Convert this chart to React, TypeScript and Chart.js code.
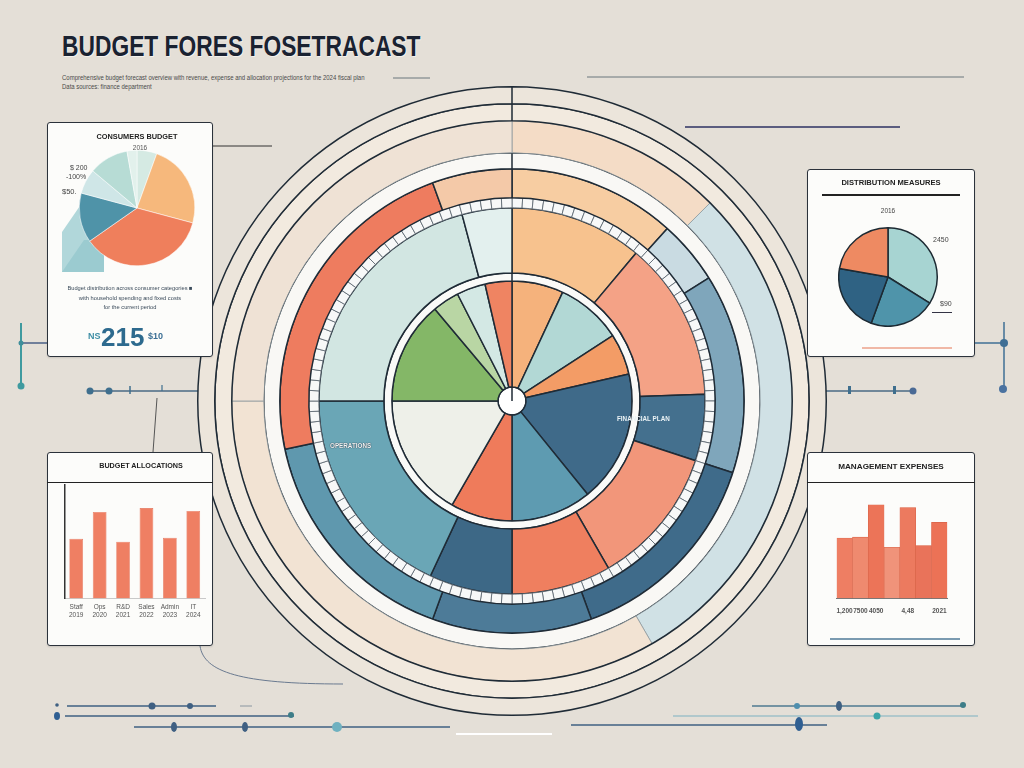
import React, { useEffect, useRef } from "react";
import { Chart, registerables } from "chart.js";
Chart.register(...registerables);

// ---------------- data ----------------
const BG = "#e4dfd7";

// central multi-ring chart (degree shares, clockwise from 12 o'clock)
const innerLabels = ["Housing", "Transport", "Food", "Savings", "Health", "Debt", "Reserve", "Growth", "Education", "Leisure", "Misc"];
const innerValues = [25, 32, 20, 64, 39, 30, 60, 50, 13, 14, 13];
const innerColors = ["#f5b27c", "#b2d8d5", "#f39c66", "#3f6a89", "#5e9bb1", "#ef7b5b", "#eef0e9", "#84b767", "#b9d6a4", "#d3e8e4", "#ef8462"];

const middleValues = [40, 48, 20, 42, 30, 25, 65, 75, 15];
const middleColors = ["#f7c28e", "#f4a286", "#44708e", "#f2967a", "#ef7f5f", "#3d6886", "#6aa6b6", "#d2e6e2", "#e3f0ee"];

const outerValues = [42, 16, 50, 52, 40, 58, 82, 20];
const outerColors = ["#f7cda2", "#c9dbe2", "#7fa6bb", "#3f6b8a", "#4d7b98", "#5f98ae", "#ee7c5f", "#f4c9a8"];

const paleValues = [45, 105, 120, 90];
const paleColors = ["#f4dcc6", "#d0e1e5", "#f2e3d3", "#efe2d5"];

const fullRing = [1];

const ladderValues = [
  1, 1, 1, 1, 1, 1, 1, 1, 1, 1, 1, 1, 1, 1, 1, 1, 1, 1, 1, 1,
  1, 1, 1, 1, 1, 1, 1, 1, 1, 1, 1, 1, 1, 1, 1, 1, 1, 1, 1, 1,
  1, 1, 1, 1, 1, 1, 1, 1, 1, 1, 1, 1, 1, 1, 1, 1, 1, 1, 1, 1,
  1, 1, 1, 1, 1, 1, 1, 1, 1, 1, 1, 1, 1, 1, 1, 1, 1, 1, 1, 1,
  1, 1, 1, 1, 1, 1, 1, 1, 1, 1, 1, 1, 1, 1, 1, 1, 1, 1, 1, 1,
  1, 1, 1, 1, 1, 1, 1, 1, 1, 1, 1, 1, 1, 1, 1, 1, 1, 1, 1, 1,
];

// top-left card pie
const consumerValues = [20, 85, 130, 50, 25, 40, 10];
const consumerColors = ["#d5eae3", "#f6b87c", "#ef7f5c", "#4f93a8", "#cfe6e7", "#b7dcd5", "#e2f1ec"];

// top-right card pie
const distributionValues = [122, 78, 80, 80];
const distributionColors = ["#a7d4d2", "#4f94aa", "#2f6283", "#ee8a62"];

// bottom-left bars
const allocationLabels = [["Staff", "2019"], ["Ops", "2020"], ["R&D", "2021"], ["Sales", "2022"], ["Admin", "2023"], ["IT", "2024"]];
const allocationValues = [62, 90, 59, 94, 63, 91];

// bottom-right bars
const expenseLabels = ["1,200", "7500", "4050", "", "4,48", " ", "2021"];
const expenseValues = [65, 66, 101, 55, 98, 57, 82];
const expenseColors = ["#ee7e63", "#ef8a6f", "#ec7458", "#f0937a", "#ec7a5f", "#e9735a", "#ec7256"];

// ---------------- helpers ----------------
function ChartBox({ make, left, top, width, height }: any) {
  const ref = useRef<HTMLCanvasElement>(null);
  useEffect(() => {
    const chart = new Chart(ref.current as HTMLCanvasElement, make());
    return () => chart.destroy();
  }, []);
  return (
    <div style={{ position: "absolute", left, top, width, height }}>
      <canvas ref={ref} width={width} height={height} style={{ display: "block" }} />
    </div>
  );
}

function Txt({ x, y, size = 7, weight = 400, color = "#333", align = "left", sx = 1, children, style }: any) {
  const tx = align === "center" ? "translate(-50%,-50%)" : "translate(0,-50%)";
  return (
    <div
      style={{
        position: "absolute",
        left: x,
        top: y,
        fontSize: size,
        fontWeight: weight,
        color,
        whiteSpace: "nowrap",
        lineHeight: 1,
        transform: `${tx} scaleX(${sx})`,
        transformOrigin: align === "center" ? "center" : "left center",
        ...style,
      }}
    >
      {children}
    </div>
  );
}

function Card({ left, top, width, height }: any) {
  return (
    <div
      style={{
        position: "absolute",
        left,
        top,
        width,
        height,
        boxSizing: "border-box",
        background: "#fcfcfa",
        border: "1.2px solid #2b323b",
        borderRadius: 3,
        boxShadow: "0 1px 2px rgba(0,0,0,0.12)",
      }}
    />
  );
}

const baseOpts = {
  responsive: false,
  animation: false,
  events: [],
  plugins: { legend: { display: false }, tooltip: { enabled: false }, title: { display: false } },
};

const ringLine = "#1f2b36";

function makeCenter() {
  return {
    type: "doughnut",
    data: {
      labels: innerLabels,
      datasets: [
        { data: fullRing, backgroundColor: ["#ece5db"], borderColor: ringLine, borderWidth: 1.5, weight: 17 },
        { data: fullRing, backgroundColor: ["#f2eadf"], borderColor: ringLine, borderWidth: 1.5, weight: 17 },
        { data: paleValues, backgroundColor: paleColors, borderColor: "#8f9aa0", borderWidth: 0.8, weight: 32 },
        { data: fullRing, backgroundColor: ["#f9f8f5"], borderColor: ringLine, borderWidth: 1.5, weight: 16 },
        { data: outerValues, backgroundColor: outerColors, borderColor: ringLine, borderWidth: 1.5, weight: 29 },
        { data: ladderValues, backgroundColor: "#f7f8f8", borderColor: "#55616b", borderWidth: 0.8, weight: 10 },
        { data: middleValues, backgroundColor: middleColors, borderColor: ringLine, borderWidth: 1.5, weight: 65 },
        { data: fullRing, backgroundColor: ["#fafaf8"], borderColor: ringLine, borderWidth: 1.5, weight: 8 },
        { data: innerValues, backgroundColor: innerColors, borderColor: ringLine, borderWidth: 1.5, weight: 106 },
        { data: fullRing, backgroundColor: ["#ffffff"], borderColor: ringLine, borderWidth: 1.5, weight: 14 },
      ],
    },
    options: { ...baseOpts, cutout: 0, layout: { padding: 0 } },
  } as any;
}

function makeConsumerPie() {
  return {
    type: "pie",
    data: {
      labels: consumerValues.map((_, i) => "s" + i),
      datasets: [{ data: consumerValues, backgroundColor: consumerColors, borderColor: "#ffffff", borderWidth: 0.5 }],
    },
    options: { ...baseOpts, layout: { padding: 0 } },
  } as any;
}

function makeDistributionPie() {
  return {
    type: "pie",
    data: {
      labels: distributionValues.map((_, i) => "d" + i),
      datasets: [{ data: distributionValues, backgroundColor: distributionColors, borderColor: "#1d2a33", borderWidth: 1.5 }],
    },
    options: { ...baseOpts, layout: { padding: 0 } },
  } as any;
}

function makeAllocationBars() {
  return {
    type: "bar",
    data: {
      labels: allocationLabels,
      datasets: [
        {
          data: allocationValues,
          backgroundColor: "#ef7f63",
          borderColor: "#e06a50",
          borderWidth: 0.6,
          barPercentage: 0.75,
          categoryPercentage: 0.78,
        },
      ],
    },
    options: {
      ...baseOpts,
      layout: { padding: { top: 3, right: 2, left: 0, bottom: 0 } },
      scales: {
        x: {
          grid: { display: false, drawTicks: false },
          border: { display: true, color: "#c9c9c9", width: 1 },
          ticks: { font: { size: 6.5, family: "Liberation Sans" }, color: "#555", padding: 5, maxRotation: 0, autoSkip: false },
        },
        y: {
          min: 0,
          max: 118,
          grid: { display: false, drawTicks: false },
          border: { display: true, color: "#333", width: 1.5 },
          ticks: { display: false },
        },
      },
    },
  } as any;
}

function makeExpenseBars() {
  return {
    type: "bar",
    data: {
      labels: expenseLabels,
      datasets: [
        {
          data: expenseValues,
          backgroundColor: expenseColors,
          borderColor: "#d9654a",
          borderWidth: 0.6,
          barPercentage: 1,
          categoryPercentage: 1,
        },
      ],
    },
    options: {
      ...baseOpts,
      layout: { padding: { top: 2, right: 0, left: 0, bottom: 0 } },
      scales: {
        x: {
          grid: { display: false, drawTicks: false },
          border: { display: true, color: "#777", width: 1 },
          ticks: { font: { size: 6.5, family: "Liberation Sans", weight: "bold" }, color: "#555", padding: 9, maxRotation: 0, autoSkip: false },
        },
        y: { display: false, min: 0, max: 117 },
      },
    },
  } as any;
}

function Decor() {
  const blue = "#3f6f8e";
  return (
    <svg width={1024} height={768} style={{ position: "absolute", left: 0, top: 0 }}>
      <line x1={587} y1={77} x2={964} y2={77} stroke="#6b777d" strokeWidth={1} />
      <line x1={393} y1={78} x2={430} y2={78} stroke="#6b777d" strokeWidth={1} />
      <line x1={685} y1={127} x2={900} y2={127} stroke="#2e3262" strokeWidth={1.5} />
      <line x1={213} y1={146} x2={272} y2={146} stroke="#333" strokeWidth={1} />
      {/* left connector */}
      <line x1={21} y1={323} x2={21} y2={385} stroke="#3f9a9f" strokeWidth={2} />
      <line x1={21} y1={343} x2={47} y2={343} stroke="#4a5f86" strokeWidth={1.5} />
      <circle cx={21} cy={343} r={2.5} fill="#3f8e9a" />
      <circle cx={21} cy={386} r={3.5} fill="#3f9a9f" />
      <line x1={88} y1={391} x2={262} y2={391} stroke="#4a6a85" strokeWidth={1.5} />
      <circle cx={90} cy={391} r={3.5} fill={blue} />
      <circle cx={109} cy={391} r={3.5} fill={blue} />
      <line x1={130} y1={386} x2={130} y2={394} stroke={blue} strokeWidth={1.5} />
      <line x1={162} y1={385} x2={162} y2={391} stroke={blue} strokeWidth={1.2} />
      <line x1={157} y1={398} x2={153} y2={452} stroke="#555" strokeWidth={1} />
      {/* right connector */}
      <line x1={975} y1={343} x2={1004} y2={343} stroke="#3f6f95" strokeWidth={1.5} />
      <line x1={1004} y1={322} x2={1004} y2={388} stroke="#3f6f95" strokeWidth={1.5} />
      <circle cx={1004} cy={343} r={4} fill="#3f6f95" />
      <circle cx={1003} cy={389} r={4} fill="#4a72a0" />
      <line x1={790} y1={391} x2={913} y2={391} stroke="#4a6a85" strokeWidth={1.5} />
      <rect x={848} y={386} width={3} height={8} fill={blue} />
      <rect x={893} y={386} width={3} height={8} fill={blue} />
      <circle cx={913} cy={391} r={3.5} fill="#4a6a95" />
      {/* bottom left */}
      <path d="M200 646 C 204 672, 240 684, 343 684" fill="none" stroke="#6a7a90" strokeWidth={1} />
      <line x1={67} y1={706} x2={216} y2={706} stroke="#3f6082" strokeWidth={1.5} />
      <circle cx={57} cy={705} r={1.8} fill="#3f6082" />
      <circle cx={152} cy={706} r={3.5} fill="#3f6082" />
      <circle cx={190} cy={706} r={3} fill="#3f6082" />
      <line x1={240} y1={706} x2={252} y2={706} stroke="#8a96a0" strokeWidth={1} />
      <line x1={65} y1={716} x2={294} y2={716} stroke="#3f6082" strokeWidth={1.5} />
      <ellipse cx={57} cy={716} rx={3} ry={4} fill="#2f5f92" />
      <circle cx={291} cy={715} r={3} fill="#3d7d88" />
      <line x1={134} y1={727} x2={450} y2={727} stroke="#3f6082" strokeWidth={1.5} />
      <ellipse cx={174} cy={727} rx={3} ry={5} fill="#3f6082" />
      <ellipse cx={245} cy={727} rx={3} ry={5} fill="#3f6082" />
      <circle cx={337} cy={727} r={5} fill="#6fb1c0" />
      {/* bottom right */}
      <line x1={752} y1={706} x2={964} y2={706} stroke="#4f7a90" strokeWidth={1.5} />
      <circle cx={797} cy={706} r={3} fill="#4f8fae" />
      <ellipse cx={839} cy={706} rx={3} ry={5} fill="#3f6082" />
      <circle cx={963} cy={705} r={3} fill="#3d7d88" />
      <line x1={673} y1={716} x2={978} y2={716} stroke="#9fc1c8" strokeWidth={1.5} />
      <circle cx={877} cy={716} r={3.5} fill="#3aa5a8" />
      <line x1={571} y1={725} x2={827} y2={725} stroke="#3f6082" strokeWidth={1.5} />
      <ellipse cx={799} cy={724} rx={4} ry={7} fill="#2f5f92" />
      <line x1={456} y1={734} x2={552} y2={734} stroke="#ffffff" strokeWidth={2} />
    </svg>
  );
}

function PieSide() {
  return (
    <svg width={1024} height={768} style={{ position: "absolute", left: 0, top: 0, pointerEvents: "none" }}>
      <polygon points="62,232 84,200 104,200 104,272 62,272" fill="#a9d3d6" opacity={0.9} />
      <polygon points="62,272 84,240 104,240 104,272" fill="#8cc3c9" opacity={0.6} />
    </svg>
  );
}

export default function App() {
  return (
    <div
      style={{
        position: "fixed",
        left: 0,
        top: 0,
        width: 1024,
        height: 768,
        background: BG,
        overflow: "hidden",
        fontFamily: '"Liberation Sans", Arial, sans-serif',
      }}
    >
      <Decor />

      {/* title */}
      <Txt x={62} y={46} size={30} weight={900} color="#1a2231" sx={0.76} style={{ textShadow: "1px 1px 0 rgba(255,255,255,0.6)" }}>
        BUDGET FORES FOSETRACAST
      </Txt>
      <Txt x={62} y={78} size={6.5} color="#4a4a4a" sx={0.92}>
        Comprehensive budget forecast overview with revenue, expense and allocation projections for the 2024 fiscal plan
      </Txt>
      <Txt x={62} y={87} size={6.5} color="#4a4a4a" sx={0.92}>
        Data sources: finance department
      </Txt>

      {/* central chart */}
      <ChartBox make={makeCenter} left={197} top={86} width={630} height={630} />
      <Txt x={617} y={418} size={7} weight={700} color="#eaf2f5" sx={0.9}>FINANCIAL PLAN</Txt>
      <Txt x={330} y={445} size={7} weight={700} color="#f2f6f6" sx={0.9} style={{ textShadow: "0 0 1px #2a3a48, 0 0 1px #2a3a48" }}>
        OPERATIONS
      </Txt>

      {/* top-left card */}
      <Card left={47} top={122} width={166} height={235} />
      <PieSide />
      <Txt x={137} y={137} size={8} weight={700} color="#222" align="center" sx={0.92}>CONSUMERS BUDGET</Txt>
      <Txt x={140} y={148} size={6.5} color="#555" align="center">2016</Txt>
      <Txt x={70} y={167} size={7} color="#444">$ 200</Txt>
      <Txt x={66} y={176} size={7} color="#444">-100%</Txt>
      <Txt x={62} y={192} size={7.5} color="#444">$50.</Txt>
      <ChartBox make={makeConsumerPie} left={79} top={150} width={116} height={116} />
      <Txt x={130} y={288} size={6} color="#3a4a5a" align="center" sx={0.95}>Budget distribution across consumer categories ■</Txt>
      <Txt x={130} y={298} size={6} color="#3a4a5a" align="center" sx={0.95}>with household spending and fixed costs</Txt>
      <Txt x={130} y={307} size={6} color="#3a4a5a" align="center" sx={0.95}>for the current period</Txt>
      <Txt x={88} y={336} size={9} weight={700} color="#3d8ea5">NS</Txt>
      <Txt x={101} y={337} size={26} weight={900} color="#2d6a8e">215</Txt>
      <Txt x={148} y={336} size={9} weight={700} color="#3b6f95">$10</Txt>

      {/* top-right card */}
      <Card left={807} top={169} width={168} height={188} />
      <Txt x={891} y={183} size={8} weight={700} color="#222" align="center" sx={0.95}>DISTRIBUTION MEASURES</Txt>
      <div style={{ position: "absolute", left: 822, top: 194, width: 138, height: 1.5, background: "#222" }} />
      <Txt x={888} y={211} size={6.5} color="#444" align="center">2016</Txt>
      <Txt x={933} y={239} size={7} color="#444">2450</Txt>
      <Txt x={940} y={303} size={7} color="#444">$90</Txt>
      <div style={{ position: "absolute", left: 932, top: 312, width: 20, height: 1, background: "#334" }} />
      <ChartBox make={makeDistributionPie} left={838} top={227} width={100} height={100} />
      <div style={{ position: "absolute", left: 862, top: 347, width: 90, height: 1.5, background: "#f0b8a6" }} />

      {/* bottom-left card */}
      <Card left={47} top={452} width={166} height={194} />
      <Txt x={141} y={466} size={8} weight={700} color="#222" align="center" sx={0.9}>BUDGET ALLOCATIONS</Txt>
      <div style={{ position: "absolute", left: 47, top: 482, width: 166, height: 1.2, background: "#222" }} />
      <ChartBox make={makeAllocationBars} left={64} top={482} width={143} height={142} />

      {/* bottom-right card */}
      <Card left={807} top={452} width={168} height={194} />
      <Txt x={891} y={467} size={8} weight={700} color="#222" align="center" sx={1.02}>MANAGEMENT EXPENSES</Txt>
      <div style={{ position: "absolute", left: 807, top: 482, width: 168, height: 1.2, background: "#222" }} />
      <ChartBox make={makeExpenseBars} left={828} top={488} width={127} height={136} />
      <div style={{ position: "absolute", left: 830, top: 638, width: 130, height: 1.5, background: "#7a9ab0" }} />
    </div>
  );
}
